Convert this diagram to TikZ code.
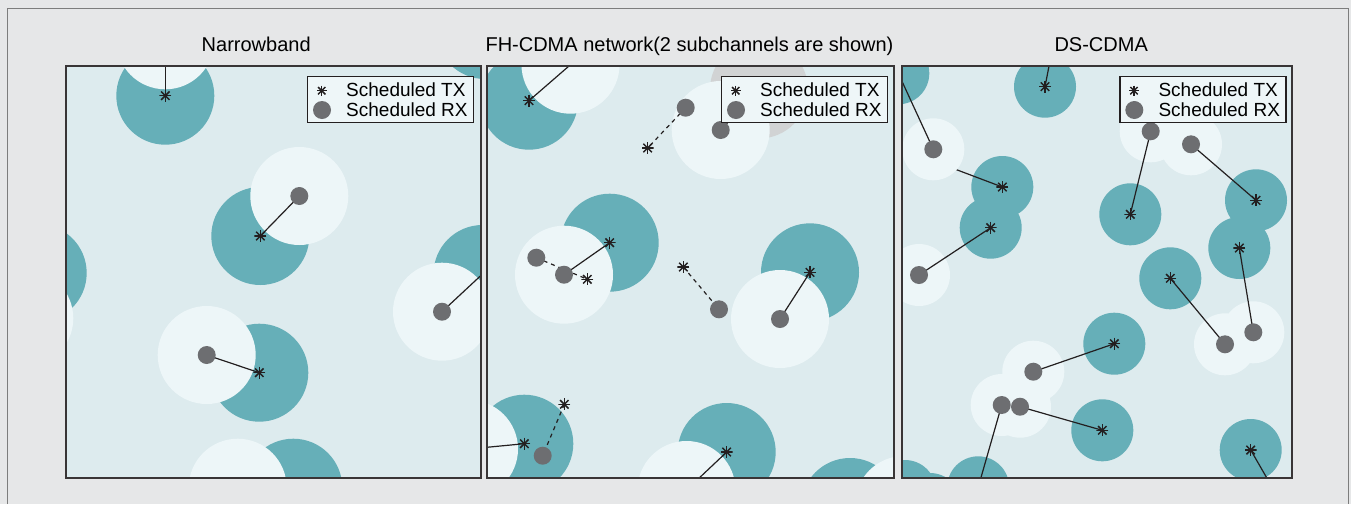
\documentclass[tikz,border=0pt]{standalone}
\usepackage{fontspec}
\setmainfont{Liberation Sans}
\usetikzlibrary{calc}
\definecolor{outerbg}{RGB}{230,231,232}
\definecolor{panelbg}{RGB}{221,235,238}
\definecolor{tealdisk}{RGB}{102,175,184}
\definecolor{lightdisk}{RGB}{237,246,248}
\definecolor{graydisk}{RGB}{209,211,212}
\definecolor{dotgray}{RGB}{109,110,113}
\definecolor{ink}{RGB}{35,31,32}
\definecolor{framegray}{RGB}{125,125,125}
\definecolor{legfill}{RGB}{238,246,248}
\tikzset{
  txstar/.style={inner sep=0pt, minimum size=2*#1, draw=none,
    path picture={\foreach \a in {0,45,90,135}{\draw[ink, line width=1.45pt] (path picture bounding box.center) ++(\a:#1) -- ++(\a+180:2*#1);}}},
  txstar/.default=6pt,
  rxdot/.style={circle, fill=dotgray, inner sep=0pt, minimum size=18pt},
  link/.style={ink, line width=1.2pt},
  dlink/.style={ink, line width=1.2pt, dash pattern=on 4pt off 4pt},
  panelframe/.style={draw=ink!90, line width=1.8pt},
  legframe/.style={draw=ink, line width=1.3pt, fill=legfill, minimum width=166pt, minimum height=46pt, inner sep=0pt},
  legtext/.style={anchor=base west, inner sep=0pt, font=\fontsize{19}{22}\selectfont},
  titletext/.style={anchor=base, inner sep=0pt, font=\fontsize{20}{24}\selectfont}
}
\newcommand\tdisk[2]{\fill[tealdisk] (#1) circle (#2pt);}
\newcommand\ldisk[2]{\fill[lightdisk] (#1) circle (#2pt);}
\newcommand\mylegend[2]{%
  \node[legframe, anchor=north west] (#1) at (#2,76) {};
  \node[txstar=5.2pt] (#1tx) at ($(#1.north west)+(14.7,14.7)$) {};
  \node[rxdot] (#1rx) at ($(#1.north west)+(15,34)$) {};
  \node[legtext] (#1a) at ($(#1.north west)+(39,20.3)$) {Scheduled TX};
  \node[legtext] (#1b) at ($(#1.north west)+(39,40)$) {Scheduled RX};
}
\begin{document}
\begin{tikzpicture}[x=1pt,y=-1pt]
\useasboundingbox (0,0) rectangle (1351,504);
\fill[outerbg] (0,0) rectangle (1351,504);
\draw[framegray, line width=1pt] (7,504) -- (7,8) -- (1348,8) -- (1348,504);

\node[titletext] (title1) at (256.2,51.7) {Narrowband};
\node[titletext] (title2) at (689.5,51.7) {FH-CDMA network(2 subchannels are shown)};
\node[titletext] (title3) at (1101.2,51.7) {DS-CDMA};

% ---------------- Panel 1 ----------------
\coordinate (aT1) at (165.3,95.7);  \coordinate (aR1) at (165.3,40.3);
\coordinate (aT2) at (260.3,236);   \coordinate (aR2) at (299.3,196);
\coordinate (aT3) at (259.3,372.7); \coordinate (aR3) at (206.7,355);
\coordinate (aT4) at (293.3,487.7); \coordinate (aR4) at (237.7,487.7);
\coordinate (aT5) at (37.7,273);    \coordinate (aR5) at (24.3,318.3);
\coordinate (aT6) at (482.5,274);   \coordinate (aR6) at (442,311.7);
\coordinate (aT7) at (485,30);
\begin{scope}
\clip (66,66) rectangle (481,478);
\fill[panelbg] (66,66) rectangle (481,478);
\foreach \c in {aT1,aT2,aT3,aT4,aT5,aT6,aT7}{\tdisk{\c}{49}}
\foreach \c in {aR1,aR2,aR3,aR4,aR5,aR6}{\ldisk{\c}{49}}
\draw[link] (aT1) -- (aR1);
\draw[link] (aT2) -- (aR2);
\draw[link] (aT3) -- (aR3);
\draw[link] (aT6) -- (aR6);
\node[txstar] (aS1) at (aT1) {};
\node[txstar] (aS2) at (aT2) {};
\node[txstar] (aS3) at (aT3) {};
\node[rxdot] (aD2) at (aR2) {};
\node[rxdot] (aD3) at (aR3) {};
\node[rxdot] (aD6) at (aR6) {};
\end{scope}
\draw[panelframe] (66,66) rectangle (481,478);
\mylegend{legA}{307}

% ---------------- Panel 2 ----------------
\coordinate (bT1) at (529,100.7);   \coordinate (bR1) at (570.5,64.7);
\coordinate (bT2) at (759,89.5);    \coordinate (bR2) at (720.7,130);
\coordinate (bT3) at (609.7,242.7); \coordinate (bR3) at (564,274.7);
\coordinate (bT4) at (810,272.3);   \coordinate (bR4) at (780,319);
\coordinate (bT5) at (524.3,443.7); \coordinate (bR5) at (469,449);
\coordinate (bT6) at (726.7,452);   \coordinate (bR6) at (686.5,490);
\coordinate (bT7) at (850,507);     \coordinate (bR7) at (904,505);
\coordinate (cR1) at (685.7,107.7); \coordinate (cT1) at (647.7,148);
\coordinate (cR2) at (536.3,257.7); \coordinate (cT2) at (587.3,279.3);
\coordinate (cT3) at (683.3,267);   \coordinate (cR3) at (719,309.3);
\coordinate (cT4) at (564.3,404.3); \coordinate (cR4) at (542.7,455.7);
\begin{scope}
\clip (487,66) rectangle (894,478);
\fill[panelbg] (487,66) rectangle (894,478);
\foreach \c in {bT1,bT3,bT4,bT5,bT6,bT7}{\tdisk{\c}{49}}
\fill[graydisk] (bT2) circle (49pt);
\foreach \c in {bR1,bR2,bR3,bR4,bR5,bR6,bR7}{\ldisk{\c}{49}}
\draw[link] (bT1) -- (bR1);
\draw[link] (bT2) -- (bR2);
\draw[link] (bT3) -- (bR3);
\draw[link] (bT4) -- (bR4);
\draw[link] (bT5) -- (bR5);
\draw[link] (bT6) -- (bR6);
\draw[dlink] (cR1) -- (cT1);
\draw[dlink] (cR2) -- (cT2);
\draw[dlink] (cT3) -- (cR3);
\draw[dlink] (cT4) -- (cR4);
\node[txstar] (bS1) at (bT1) {};
\node[txstar] (bS2) at (bT2) {};
\node[txstar] (bS3) at (bT3) {};
\node[txstar] (bS4) at (bT4) {};
\node[txstar] (bS5) at (bT5) {};
\node[txstar] (bS6) at (bT6) {};
\node[txstar] (cS1) at (cT1) {};
\node[txstar] (cS2) at (cT2) {};
\node[txstar] (cS3) at (cT3) {};
\node[txstar] (cS4) at (cT4) {};
\node[rxdot] (bD2) at (bR2) {};
\node[rxdot] (bD3) at (bR3) {};
\node[rxdot] (bD4) at (bR4) {};
\node[rxdot] (cD1) at (cR1) {};
\node[rxdot] (cD2) at (cR2) {};
\node[rxdot] (cD3) at (cR3) {};
\node[rxdot] (cD4) at (cR4) {};
\end{scope}
\draw[panelframe] (487,66) rectangle (894,478);
\mylegend{legB}{721}

% ---------------- Panel 3 ----------------
\coordinate (dT1) at (1045,86.7);    \coordinate (dR1) at (1056,30);
\coordinate (dT2) at (898.3,73.3);   \coordinate (dR2) at (933.3,149.3);
\coordinate (dT3) at (1002.3,187);   \coordinate (dR3) at (870,137);
\coordinate (dT4) at (990.7,227.7);  \coordinate (dR4) at (919,275);
\coordinate (dT5) at (1130.3,214.3); \coordinate (dR5) at (1150.7,131.3);
\coordinate (dT6) at (1256,200.3);   \coordinate (dR6) at (1191,144.3);
\coordinate (dT7) at (1239.3,248);   \coordinate (dR7) at (1253.3,332.3);
\coordinate (dT8) at (1170.3,278.3); \coordinate (dR8) at (1225,344.3);
\coordinate (dT9) at (1114.3,343.7); \coordinate (dR9) at (1033.3,371.7);
\coordinate (dT10) at (1102.3,430.3);\coordinate (dR10) at (1020,406.7);
\coordinate (dT11) at (978.2,487.3); \coordinate (dR11) at (1001.7,405);
\coordinate (dT12) at (1250.7,450);  \coordinate (dR12) at (1291,520);
\coordinate (dT13) at (905,491);     \coordinate (dT14) at (930,504);
\begin{scope}
\clip (902,66) rectangle (1292,478);
\fill[panelbg] (902,66) rectangle (1292,478);
\foreach \c in {dT1,dT2,dT3,dT4,dT5,dT6,dT7,dT8,dT9,dT10,dT11,dT12,dT13,dT14}{\tdisk{\c}{31}}
\draw[link] (dT3) -- (dR3);
\foreach \c in {dR1,dR2,dR3,dR4,dR5,dR6,dR7,dR8,dR9,dR10,dR11,dR12}{\ldisk{\c}{31}}
\draw[link] (dT1) -- (dR1);
\draw[link] (dT2) -- (dR2);
\draw[link] (dT4) -- (dR4);
\draw[link] (dT5) -- (dR5);
\draw[link] (dT6) -- (dR6);
\draw[link] (dT7) -- (dR7);
\draw[link] (dT8) -- (dR8);
\draw[link] (dT9) -- (dR9);
\draw[link] (dT10) -- (dR10);
\draw[link] (dT11) -- (dR11);
\draw[link] (dT12) -- (dR12);
\node[txstar] (dS1) at (dT1) {};
\node[txstar] (dS3) at (dT3) {};
\node[txstar] (dS4) at (dT4) {};
\node[txstar] (dS5) at (dT5) {};
\node[txstar] (dS6) at (dT6) {};
\node[txstar] (dS7) at (dT7) {};
\node[txstar] (dS8) at (dT8) {};
\node[txstar] (dS9) at (dT9) {};
\node[txstar] (dS10) at (dT10) {};
\node[txstar] (dS12) at (dT12) {};
\node[rxdot] (dD2) at (dR2) {};
\node[rxdot] (dD4) at (dR4) {};
\node[rxdot] (dD5) at (dR5) {};
\node[rxdot] (dD6) at (dR6) {};
\node[rxdot] (dD7) at (dR7) {};
\node[rxdot] (dD8) at (dR8) {};
\node[rxdot] (dD9) at (dR9) {};
\node[rxdot] (dD10) at (dR10) {};
\node[rxdot] (dD11) at (dR11) {};
\end{scope}
\draw[panelframe] (902,66) rectangle (1292,478);
\mylegend{legC}{1119.3}
\end{tikzpicture}
\end{document}
